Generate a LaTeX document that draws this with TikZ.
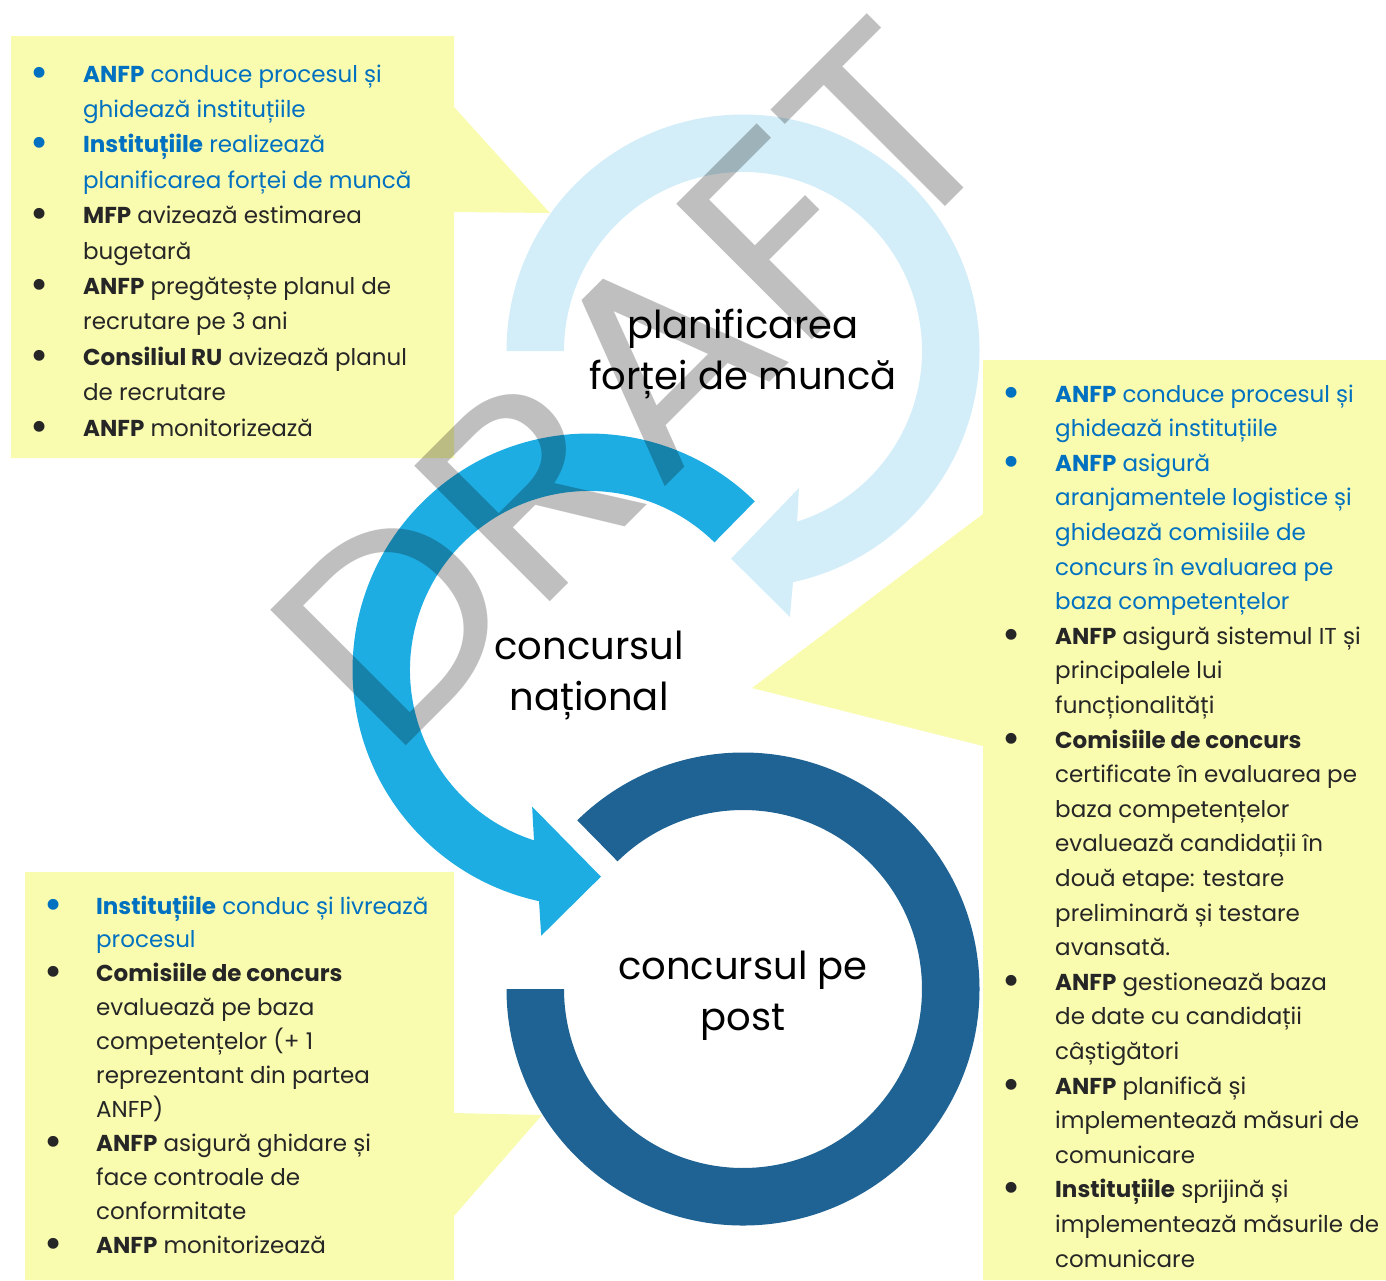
\documentclass[tikz,border=0pt]{standalone}
\usepackage{fontspec}
\setmainfont{Poppins}
\usepackage{tikz}

\definecolor{paleblue}{HTML}{D3EEF9}
\definecolor{midblue}{HTML}{1EADE2}
\definecolor{darkblue}{HTML}{1F6394}
\definecolor{notepad}{HTML}{F9FBAF}
\definecolor{anfpblue}{HTML}{0070C0}
\definecolor{ink}{HTML}{262626}

\newcommand{\bul}{\makebox[0pt]{\raisebox{-5pt}{\fontsize{44}{44}\selectfont\textbullet}}}
\newcommand{\bbul}{\textcolor{anfpblue}{\bul}}
\newcommand{\bl}[1]{\textcolor{anfpblue}{#1}}

\begin{document}
\begin{tikzpicture}[x=1pt, y=1pt,
  stage/.style={align=center, text=black, font=\fontsize{38.5}{51}\selectfont},
  list/.style={anchor=base west, inner sep=0pt, text=ink}]
  \useasboundingbox (0,0) rectangle (1386,-1280);

  % yellow callouts
  \fill[notepad] (11,-36) -- (454,-36) -- (454,-107) -- (550,-213) -- (454,-212)
    -- (454,-458) -- (11,-458) -- cycle;
  \fill[notepad] (983,-360) -- (1386,-360) -- (1386,-1280) -- (983,-1280)
    -- (983,-746) -- (752,-688) -- (983,-514) -- cycle;
  \fill[notepad] (25,-872) -- (454,-872) -- (454,-1113) -- (542,-1115) -- (454,-1216)
    -- (454,-1280) -- (25,-1280) -- cycle;

  % the three rings
  \begin{scope}[shift={(743,-351)}]
    \fill[paleblue] (180:236.5pt) arc[start angle=180, end angle=-77.8, radius=236.5pt]
      -- (-80:270pt) -- (-93.3:208pt) -- (-67.8:148pt) -- (-72.4:179pt)
      arc[start angle=-72.4, end angle=180, radius=179pt] -- cycle;
  \end{scope}
  \begin{scope}[shift={(589,-670)}]
    \fill[midblue] (45.5:236.5pt) arc[start angle=45.5, end angle=257.8, radius=236.5pt]
      -- (259.8:270pt) -- (273.3:207pt) -- (247.4:148pt) -- (252.1:179pt)
      arc[start angle=252.1, end angle=45.5, radius=179pt] -- cycle;
  \end{scope}
  \begin{scope}[shift={(743,-989)}]
    \fill[darkblue] (180:236.5pt) arc[start angle=180, end angle=494.5, radius=236.5pt]
      -- (134.5:179pt) arc[start angle=134.5, end angle=-180, radius=179pt] -- cycle;
  \end{scope}

  \node[stage] (A) at (743,-354) {planificarea\\forței de muncă};
  \node[stage] (B) at (589,-675) {concursul\\național};
  \node[stage] (C) at (743,-996) {concursul pe\\post};

  \node[list, font=\fontsize{23}{35.4}\selectfont] (D) at (39,-82) {%
    \begin{tabular}[t]{@{}l@{\hspace{44pt}}l@{}}
      \bbul & \bl{\textbf{ANFP} conduce procesul și}\\
            & \bl{ghidează instituțiile}\\
      \bbul & \bl{\textbf{Instituțiile} realizează}\\
            & \bl{planificarea forței de muncă}\\
      \bul  & \textbf{MFP} avizează estimarea\\
            & bugetară\\
      \bul  & \textbf{ANFP} pregătește planul de\\
            & recrutare pe 3 ani\\
      \bul  & \textbf{Consiliul RU} avizează planul\\
            & de recrutare\\
      \bul  & \textbf{ANFP} monitorizează
    \end{tabular}};

  \node[list, font=\fontsize{23}{34.6}\selectfont] (E) at (1011,-402) {%
    \begin{tabular}[t]{@{}l@{\hspace{44pt}}l@{}}
      \bbul & \bl{\textbf{ANFP} conduce procesul și}\\
            & \bl{ghidează instituțiile}\\
      \bbul & \bl{\textbf{ANFP} asigură}\\
            & \bl{aranjamentele logistice și}\\
            & \bl{ghidează comisiile de}\\
            & \bl{concurs în evaluarea pe}\\
            & \bl{baza competențelor}\\
      \bul  & \textbf{ANFP} asigură sistemul IT și\\
            & principalele lui\\
            & funcționalități\\
      \bul  & \textbf{Comisiile de concurs}\\
            & certificate în evaluarea pe\\
            & baza competențelor\\
            & evaluează candidații în\\
            & două etape: testare\\
            & preliminară și testare\\
            & avansată.\\
      \bul  & \textbf{ANFP} gestionează baza\\
            & de date cu candidații\\
            & câștigători\\
      \bul  & \textbf{ANFP} planifică și\\
            & implementează măsuri de\\
            & comunicare\\
      \bul  & \textbf{Instituțiile} sprijină și\\
            & implementează măsurile de\\
            & comunicare
    \end{tabular}};

  \node[list, font=\fontsize{23}{33.9}\selectfont] (F) at (53,-914) {%
    \begin{tabular}[t]{@{}l@{\hspace{43pt}}l@{}}
      \bbul & \bl{\textbf{Instituțiile} conduc și livrează}\\
            & \bl{procesul}\\
      \bul  & \textbf{Comisiile de concurs}\\
            & evaluează pe baza\\
            & competențelor (+ 1\\
            & reprezentant din partea\\
            & ANFP)\\
      \bul  & \textbf{ANFP} asigură ghidare și\\
            & face controale de\\
            & conformitate\\
      \bul  & \textbf{ANFP} monitorizează
    \end{tabular}};

  % watermark on top
  \node[rotate=45, xscale=1.05, inner sep=0pt, text=black, text opacity=0.25,
    font=\fontsize{275}{275}\selectfont] (W) at (632,-384) {DRAFT};
\end{tikzpicture}
\end{document}
